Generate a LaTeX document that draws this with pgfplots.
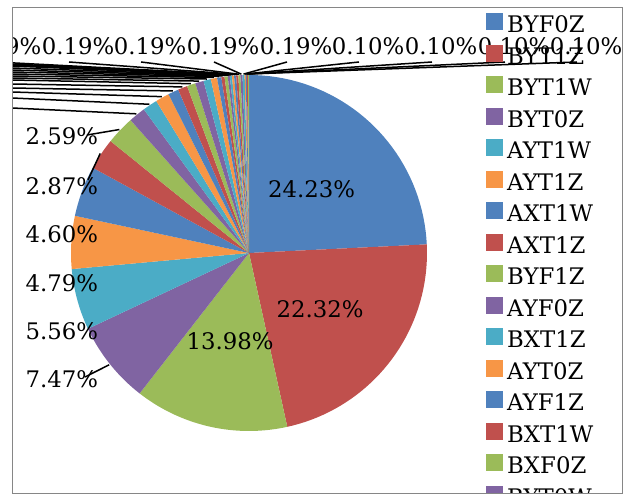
\documentclass[border=0pt]{standalone}
\usepackage{pgfplots}
\pgfplotsset{compat=1.18}
\usepackage{fontspec}
\setmainfont{DejaVu Serif}
\definecolor{c1}{HTML}{4F81BD}
\definecolor{c2}{HTML}{C0504D}
\definecolor{c3}{HTML}{9BBB59}
\definecolor{c4}{HTML}{8064A2}
\definecolor{c5}{HTML}{4BACC6}
\definecolor{c6}{HTML}{F79646}
\definecolor{framegray}{RGB}{134,134,134}
\newcommand\cx{249}
\newcommand\cy{247}
\newcommand\R{178}
\newcommand\startang{0}
\newcount\slicenum
\newcommand{\slice}[2]{%
  \global\advance\slicenum by 1
  \pgfmathsetmacro\endang{\startang+3.6*#1}%
  \pgfmathsetmacro\midang{\startang+1.8*#1}%
  \expandafter\xdef\csname mid\the\slicenum\endcsname{\midang}%
  \edef\doslice{\noexpand\addplot[fill=#2, draw=none, domain=\startang:\endang, samples=40] ({\cx+\R*sin(x)},{\cy+\R*cos(x)}) -- (axis cs:\cx,\cy) -- cycle;}%
  \doslice
  \xdef\startang{\endang}%
}
\newcommand{\leader}[3]{%
  \draw[black, line width=1.5pt] (axis cs:#2,#3) -- (axis cs:{\cx+179*sin(\csname mid#1\endcsname)},{\cy+179*cos(\csname mid#1\endcsname)});%
}
\begin{document}
\begin{tikzpicture}[font=\fontsize{22.8pt}{27pt}\selectfont]
\begin{axis}[
  width=635pt, height=500pt, scale only axis, hide axis,
  xmin=0, xmax=635, ymin=0, ymax=500, clip=false,
  legend entries={BYF0Z,BYT1Z,BYT1W,BYT0Z,AYT1W,AYT1Z,AXT1W,AXT1Z,BYF1Z,AYF0Z,BXT1Z,AYT0Z,AYF1Z,BXT1W,BXF0Z,BYT0W},
  legend style={at={(axis cs:486,487)}, anchor=north west, draw=none, fill=none,
    inner sep=0pt, row sep=0pt, column sep=4pt,
    font=\fontsize{22.8pt}{27pt}\selectfont,
    nodes={inner sep=0pt, text height=17pt, text depth=12.0pt},
    cells={anchor=west}},
  legend image code/.code={\fill[#1] (0pt,0pt) rectangle (17pt,17pt);},
]
\slice{24.23}{c1}
\slice{22.32}{c2}
\slice{13.98}{c3}
\slice{7.47}{c4}
\slice{5.56}{c5}
\slice{4.79}{c6}
\slice{4.60}{c1}
\slice{2.87}{c2}
\slice{2.59}{c3}
\slice{1.53}{c4}
\slice{1.34}{c5}
\slice{1.25}{c6}
\slice{0.96}{c1}
\slice{0.86}{c2}
\slice{0.77}{c3}
\slice{0.77}{c4}
\slice{0.67}{c5}
\slice{0.57}{c6}
\slice{0.38}{c1}
\slice{0.29}{c2}
\slice{0.29}{c3}
\slice{0.19}{c4}
\slice{0.19}{c5}
\slice{0.19}{c6}
\slice{0.19}{c1}
\slice{0.19}{c2}
\slice{0.19}{c3}
\slice{0.19}{c4}
\slice{0.19}{c5}
\slice{0.10}{c6}
\slice{0.10}{c1}
\slice{0.10}{c2}
\slice{0.10}{c3}
% leader lines
\leader{4}{85}{123}
\leader{8}{88}{320}
\leader{9}{87}{365}
\leader{10}{12}{392}
\leader{11}{12}{402}
\leader{12}{12}{408}
\leader{13}{12}{412}
\leader{14}{12}{416}
\leader{15}{12}{420}
\leader{16}{12}{422}
\leader{17}{12}{424}
\leader{18}{12}{426}
\leader{19}{12}{428}
\leader{20}{12}{430}
\leader{21}{12}{432}
\leader{22}{12}{434}
\leader{23}{12}{435}
\leader{24}{12}{436}
\leader{25}{-4}{438}
\leader{26}{69}{438}
\leader{27}{141}{438}
\leader{28}{214}{438}
\leader{29}{287}{438}
\leader{30}{359}{438}
\leader{31}{432}{438}
\leader{32}{505}{438}
\leader{33}{577}{438}
% labels
\node[anchor=base] at (axis cs:311.5,302) {24.23\%};
\node[anchor=base] at (axis cs:320,182) {22.32\%};
\node[anchor=base] at (axis cs:230,150) {13.98\%};
\node[anchor=base west] at (axis cs:22,355) {2.59\%};
\node[anchor=base west] at (axis cs:22,305) {2.87\%};
\node[anchor=base west] at (axis cs:22,257) {4.60\%};
\node[anchor=base west] at (axis cs:22,208) {4.79\%};
\node[anchor=base west] at (axis cs:22,160) {5.56\%};
\node[anchor=base west] at (axis cs:22,112) {7.47\%};
\node[anchor=base] at (axis cs:5,445) {0.19\%};
\node[anchor=base] at (axis cs:78,445) {0.19\%};
\node[anchor=base] at (axis cs:150,445) {0.19\%};
\node[anchor=base] at (axis cs:223,445) {0.19\%};
\node[anchor=base] at (axis cs:296,445) {0.19\%};
\node[anchor=base] at (axis cs:368,445) {0.10\%};
\node[anchor=base] at (axis cs:441,445) {0.10\%};
\node[anchor=base] at (axis cs:514,445) {0.10\%};
\node[anchor=base] at (axis cs:586,445) {0.10\%};
\end{axis}
\fill[white] (-200pt,-1500pt) rectangle (12pt,800pt);
\fill[white] (622pt,-1500pt) rectangle (1000pt,800pt);
\fill[white] (-200pt,493pt) rectangle (1000pt,800pt);
\fill[white] (-200pt,-1500pt) rectangle (1000pt,7pt);
\draw[framegray, line width=0.8pt] (12pt,7pt) rectangle (622pt,493pt);
\pgfresetboundingbox
\useasboundingbox (0pt,0pt) rectangle (635pt,500pt);
\end{tikzpicture}
\end{document}
